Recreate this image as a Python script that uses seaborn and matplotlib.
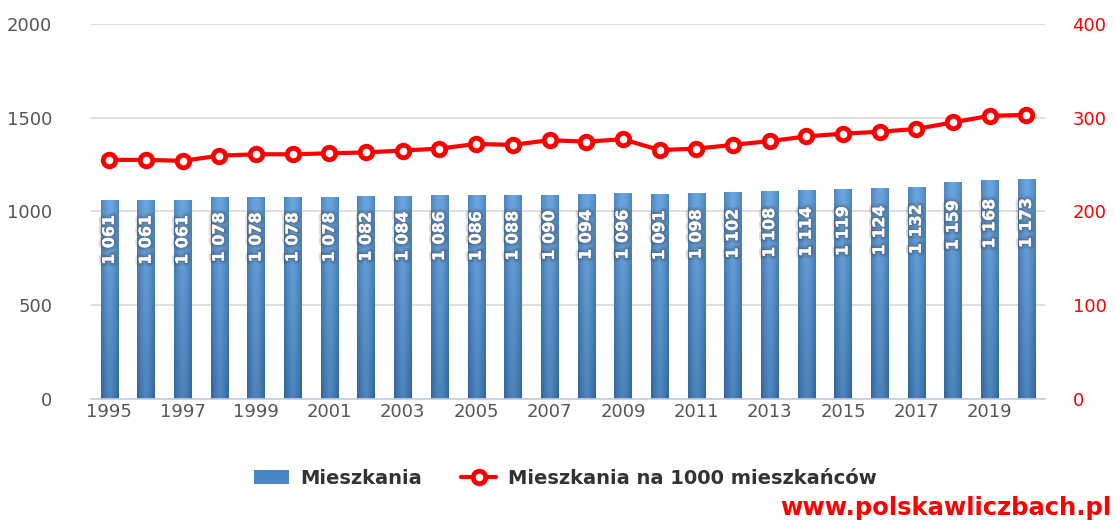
import numpy as np
import pandas as pd
import matplotlib
matplotlib.use("Agg")
import matplotlib.pyplot as plt
import matplotlib.patheffects as pe
from matplotlib.lines import Line2D
from matplotlib.patches import Patch
import seaborn as sns

years = list(range(1995, 2021))
mieszkania = [1061, 1061, 1061, 1078, 1078, 1078, 1078, 1082, 1084, 1086, 1086, 1088, 1090,
              1094, 1096, 1091, 1098, 1102, 1108, 1114, 1119, 1124, 1132, 1159, 1168, 1173]
na_1000 = [255, 255, 254, 259.5, 261, 261, 262, 263, 265, 267, 272, 271, 276,
           274.5, 277, 265.5, 267, 271, 275, 280, 283, 285, 288, 295, 302, 303]
labels = ["1 061", "1 061", "1 061", "1 078", "1 078", "1 078", "1 078", "1 082", "1 084",
          "1 086", "1 086", "1 088", "1 090", "1 094", "1 096", "1 091", "1 098", "1 102",
          "1 108", "1 114", "1 119", "1 124", "1 132", "1 159", "1 168", "1 173"]
leg_bar = "Mieszkania"
leg_line = "Mieszkania na 1000 mieszkańców"

df = pd.DataFrame({"rok": [str(y) for y in years], "m": mieszkania, "r": na_1000})

sns.set_theme(style="white")
plt.rcParams["font.family"] = ["DejaVu Sans"]

fig = plt.figure(figsize=(11.15, 5.2), dpi=100)
ax = fig.add_axes([0.0816, 0.2327, 0.8554, 0.7213])
sns.barplot(data=df, x="rok", y="m", ax=ax, color="#4a86c5", width=0.47,
            saturation=1, edgecolor="none", zorder=2)
ax.set_ylim(0, 2000)
ax.set_xlim(-0.5, len(years) - 0.5)
ax.set_yticks([0, 500, 1000, 1500, 2000])
ax.grid(axis="y", color="#d9d9d9", linewidth=1.2, zorder=0)
ax.set_axisbelow(True)
for s in ["top", "right", "left"]:
    ax.spines[s].set_visible(False)
ax.spines["bottom"].set_color("#c0cde0")
ax.spines["bottom"].set_linewidth(1.2)
ax.set_xlabel("")
ax.set_ylabel("")
ax.set_xticks(range(0, len(years), 2))
ax.set_xticklabels([str(y) for y in years[::2]])
ax.tick_params(axis="x", colors="#555555", labelsize=13, length=3, pad=0)
ax.tick_params(axis="y", colors="#555555", labelsize=13, length=0, pad=28)

# gradient fill for bars
grad_h = np.linspace(-1, 1, 64)
grad_v = np.linspace(0, 1, 64)
H, V = np.meshgrid(grad_h, grad_v)
light = np.array([0.42, 0.65, 0.88])
dark = np.array([0.19, 0.39, 0.60])
t = np.clip(0.5 * np.abs(H) ** 1.5 + 0.5 * (1 - V), 0, 1)
img = light[None, None, :] * (1 - t[..., None]) + dark[None, None, :] * t[..., None]
for p in ax.patches:
    x0, y0 = p.get_x(), p.get_y()
    w, h = p.get_width(), p.get_height()
    im = ax.imshow(img, extent=[x0, x0 + w, y0, y0 + h], origin="lower",
                   aspect="auto", zorder=2.1, interpolation="bilinear")
    im.set_clip_path(p)
ax.set_xlim(-0.5, len(years) - 0.5)
ax.set_ylim(0, 2000)

for i, (v, lab) in enumerate(zip(mieszkania, labels)):
    ax.text(i, v * 0.8, lab, rotation=90, ha="center", va="center", color="white",
            fontsize=11.5, fontweight="bold", zorder=4,
            path_effects=[pe.withStroke(linewidth=5, foreground=(0.3, 0.3, 0.3, 0.18)),
                          pe.withStroke(linewidth=2.5, foreground=(0.25, 0.25, 0.25, 0.2))])

ax2 = ax.twinx()
sns.pointplot(data=df, x="rok", y="r", ax=ax2, color="#ff0000", markers="o",
              linestyles="-", markersize=9, markerfacecolor="white",
              markeredgewidth=3.5, linewidth=3, zorder=5)
ax2.set_ylim(0, 400)
ax2.set_xlim(-0.5, len(years) - 0.5)
ax2.set_yticks([0, 100, 200, 300, 400])
ax2.set_ylabel("")
ax2.set_xlabel("")
for s in ax2.spines.values():
    s.set_visible(False)
ax2.tick_params(axis="y", colors="#ff0000", labelsize=13, length=0, pad=20)
ax2.grid(False)

handles = [Patch(facecolor="#4a86c5", edgecolor="none"),
           Line2D([0], [0], color="#ff0000", lw=3, marker="o", markersize=9,
                  markerfacecolor="white", markeredgewidth=3.5)]
fig.legend(handles, [leg_bar, leg_line], loc="center", bbox_to_anchor=(0.507, 0.08),
           ncol=2, frameon=False, prop={"weight": "bold", "size": 14},
           labelcolor="#333333", handlelength=1.8, columnspacing=2.0, handletextpad=0.6)

fig.text(0.997, 0.0, "www.polskawliczbach.pl", ha="right", va="bottom",
         color="#ff0000", fontsize=17.5, fontweight="bold")

fig.savefig("out.png", dpi=100)
